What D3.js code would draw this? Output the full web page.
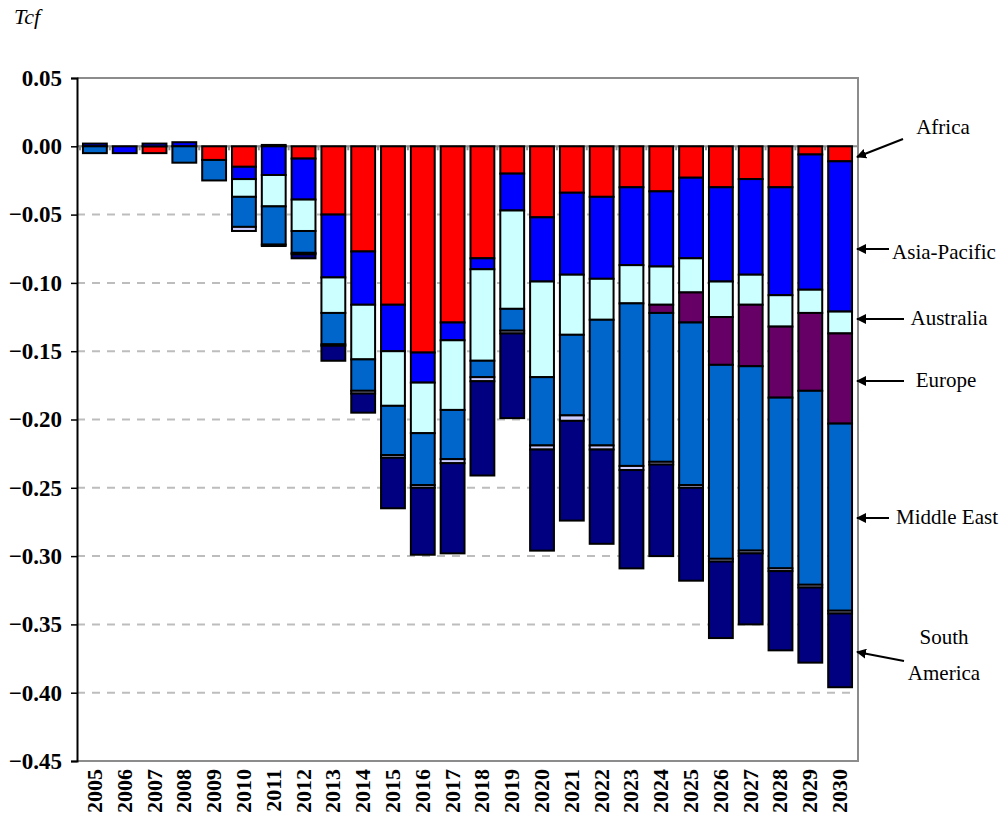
<!DOCTYPE html>
<html>
<head>
<meta charset="utf-8">
<script src="https://cdnjs.cloudflare.com/ajax/libs/d3/7.8.5/d3.min.js"></script>
<style>
  body { margin: 0; background: #fff; }
  text { font-family: "Liberation Serif", "Times New Roman", serif; }
</style>
</head>
<body>
<script>
// years on the category axis
var years = d3.range(2005, 2031).map(String);

// segment sizes per region, Tcf
var africa      = [0, 0, -0.005, 0, -0.010, -0.015, 0.001, -0.009, -0.050, -0.077, -0.116, -0.151, -0.129, -0.082, -0.020, -0.052, -0.034, -0.037, -0.030, -0.033, -0.023, -0.030, -0.024, -0.030, -0.006, -0.011];
var asiaPacific = [0.002, -0.005, 0.002, 0.003, 0, -0.009, -0.021, -0.030, -0.046, -0.039, -0.034, -0.022, -0.013, -0.008, -0.027, -0.047, -0.060, -0.060, -0.057, -0.055, -0.059, -0.069, -0.070, -0.079, -0.099, -0.110];
var australia   = [0, 0, 0, 0, 0, -0.013, -0.023, -0.023, -0.026, -0.040, -0.040, -0.037, -0.051, -0.067, -0.072, -0.070, -0.044, -0.030, -0.028, -0.028, -0.025, -0.026, -0.022, -0.023, -0.017, -0.016];
var europe      = [0, 0, 0, 0, 0, 0, 0, 0, 0, 0, 0, 0, 0, 0, 0, 0, 0, 0, 0, -0.006, -0.022, -0.035, -0.045, -0.052, -0.057, -0.066];
var middleEast  = [-0.005, 0, 0, -0.012, -0.015, -0.022, -0.028, -0.016, -0.023, -0.023, -0.036, -0.038, -0.036, -0.012, -0.016, -0.050, -0.059, -0.092, -0.119, -0.109, -0.119, -0.142, -0.135, -0.125, -0.142, -0.137];
var other       = [0, 0, 0, 0, 0, -0.003, 0, -0.001, -0.001, -0.002, -0.002, -0.002, -0.003, -0.003, -0.002, -0.003, -0.004, -0.003, -0.003, -0.002, -0.002, -0.002, -0.002, -0.002, -0.002, -0.002];
var southAmerica = [0, 0, 0, 0, 0, 0, -0.001, -0.003, -0.011, -0.014, -0.037, -0.049, -0.066, -0.069, -0.062, -0.074, -0.073, -0.069, -0.072, -0.067, -0.068, -0.056, -0.052, -0.058, -0.055, -0.054];

var yTicks = [0.05, 0, -0.05, -0.10, -0.15, -0.20, -0.25, -0.30, -0.35, -0.40, -0.45];

var seriesNames = ["Africa", "Asia-Pacific", "Australia", "Europe", "Middle East", "Other", "South America"];
var seriesValues = [africa, asiaPacific, australia, europe, middleEast, other, southAmerica];
var colors = ["#ff0000", "#0000ff", "#ccffff", "#660066", "#0066cc", "#ccccff", "#000080"];

var rows = years.map(function(y, i) {
  var r = { year: y };
  seriesNames.forEach(function(n, j) { r[n] = seriesValues[j][i]; });
  return r;
});

var W = 1005, H = 829;
var pLeft = 77, pRight = 858, pTop = 78, pBottom = 761;

var svg = d3.select("body").append("svg")
  .attr("width", W)
  .attr("height", H);

var x = d3.scaleBand().domain(years).range([pLeft, pRight]).padding(0.2);
var y = d3.scaleLinear().domain([-0.45, 0.05]).range([pBottom, pTop]);

// gridlines
svg.append("g").selectAll("line")
  .data(yTicks.filter(function(t) { return t < 0.04 && t > -0.44; }))
  .enter().append("line")
  .attr("x1", pLeft).attr("x2", pRight)
  .attr("y1", function(d) { return y(d); })
  .attr("y2", function(d) { return y(d); })
  .attr("stroke", "#bdbdbd")
  .attr("stroke-width", 2)
  .attr("stroke-dasharray", "8,7");

// plot frame (top, right, bottom)
svg.append("path")
  .attr("d", "M" + pLeft + "," + pTop + "H" + pRight + "V" + pBottom + "H" + pLeft)
  .attr("fill", "none")
  .attr("stroke", "#8c8c8c")
  .attr("stroke-width", 2);

// category axis at zero
svg.append("line")
  .attr("x1", pLeft).attr("x2", pRight)
  .attr("y1", y(0)).attr("y2", y(0))
  .attr("stroke", "#8c8c8c").attr("stroke-width", 2);
svg.append("g").selectAll("line")
  .data(years)
  .enter().append("line")
  .attr("x1", function(d) { return x(d) - x.step() * x.paddingInner() / 2; })
  .attr("x2", function(d) { return x(d) - x.step() * x.paddingInner() / 2; })
  .attr("y1", y(0)).attr("y2", y(0) + 4)
  .attr("stroke", "#8c8c8c").attr("stroke-width", 2);

// stacked bars
var stack = d3.stack().keys(seriesNames).offset(d3.stackOffsetDiverging);
var layers = stack(rows);

svg.append("g").selectAll("g")
  .data(layers)
  .enter().append("g")
  .attr("fill", function(d, i) { return colors[i]; })
  .selectAll("rect")
  .data(function(d) { return d.filter(function(p) { return p[1] - p[0] !== 0; }); })
  .enter().append("rect")
  .attr("x", function(d) { return x(d.data.year); })
  .attr("width", x.bandwidth())
  .attr("y", function(d) { return y(d[1]); })
  .attr("height", function(d) { return y(d[0]) - y(d[1]); })
  .attr("stroke", "#000")
  .attr("stroke-width", 2);

// value axis
var yAxis = svg.append("g")
  .attr("transform", "translate(" + pLeft + ",0)")
  .call(d3.axisLeft(y).tickValues(yTicks).tickFormat(d3.format(".2f")).tickSize(6).tickPadding(9));
yAxis.select(".domain").attr("stroke", "#000").attr("stroke-width", 2);
yAxis.selectAll(".tick line").attr("stroke", "#000").attr("stroke-width", 1.5);
yAxis.selectAll(".tick text")
  .attr("font-size", 23)
  .attr("font-weight", "bold")
  .attr("fill", "#000")
  .style("font-family", "'Liberation Serif', 'Times New Roman', serif");

// year labels
svg.append("g").selectAll("text")
  .data(years)
  .enter().append("text")
  .attr("transform", function(d) {
    return "translate(" + (x(d) + x.bandwidth() / 2 + 7) + "," + (pBottom + 8) + ") rotate(-90)";
  })
  .attr("text-anchor", "end")
  .attr("font-size", 22)
  .attr("font-weight", "bold")
  .text(function(d) { return d; });

// unit label
svg.append("text")
  .attr("x", 14).attr("y", 24)
  .attr("font-size", 22)
  .attr("font-style", "italic")
  .text("Tcf");

// arrow marker
svg.append("defs").append("marker")
  .attr("id", "head")
  .attr("viewBox", "0 0 10 10")
  .attr("refX", 9).attr("refY", 5)
  .attr("markerWidth", 5).attr("markerHeight", 5)
  .attr("orient", "auto")
  .append("path")
  .attr("d", "M0,0L10,5L0,10Z")
  .attr("fill", "#000");

var notes = [
  { lines: ["Africa"], tx: 943, ty: [134], x1: 903, y1: 139, x2: 857, y2: 157 },
  { lines: ["Asia-Pacific"], tx: 944, ty: [259], x1: 889, y1: 249, x2: 857, y2: 249 },
  { lines: ["Australia"], tx: 949, ty: [325], x1: 904, y1: 319, x2: 857, y2: 319 },
  { lines: ["Europe"], tx: 946, ty: [387], x1: 904, y1: 381, x2: 857, y2: 381 },
  { lines: ["Middle East"], tx: 947, ty: [524], x1: 889, y1: 518, x2: 857, y2: 518 },
  { lines: ["South", "America"], tx: 944, ty: [644, 680], x1: 904, y1: 661, x2: 857, y2: 652 }
];

var ann = svg.append("g");
notes.forEach(function(n) {
  ann.append("line")
    .attr("x1", n.x1).attr("y1", n.y1)
    .attr("x2", n.x2).attr("y2", n.y2)
    .attr("stroke", "#000")
    .attr("stroke-width", 2)
    .attr("marker-end", "url(#head)");
  n.lines.forEach(function(t, k) {
    ann.append("text")
      .attr("x", n.tx).attr("y", n.ty[k])
      .attr("text-anchor", "middle")
      .attr("font-size", 21)
      .text(t);
  });
});
</script>
</body>
</html>
